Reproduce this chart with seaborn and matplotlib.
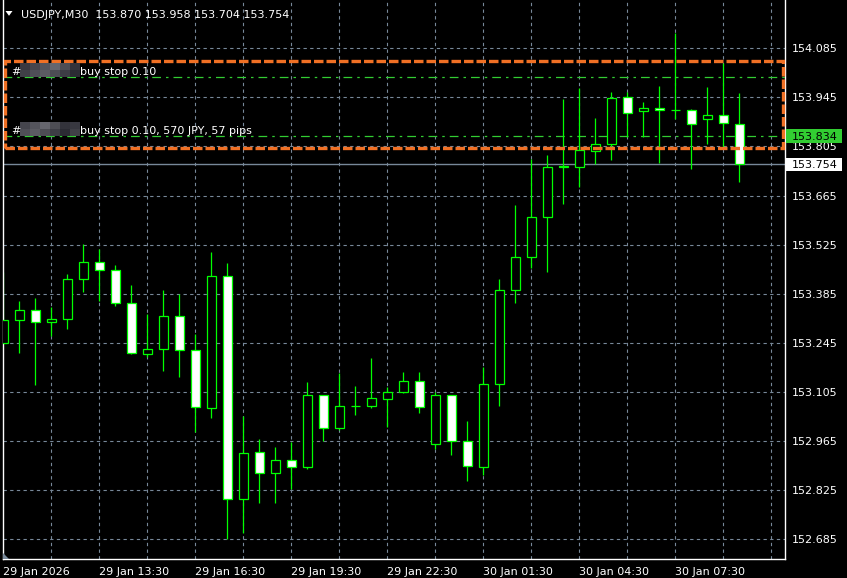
import matplotlib
matplotlib.use("Agg")
import matplotlib.pyplot as plt
import matplotlib.transforms as mtransforms
from matplotlib.patches import Rectangle, Polygon
import numpy as np
import pandas as pd
import seaborn as sns

# ---------------- data ----------------
symbol = "USDJPY,M30"
opens = [153.245, 153.311, 153.338, 153.303, 153.313, 153.426, 153.474, 153.452, 153.358, 153.212,
         153.226, 153.320, 153.223, 153.058, 153.435, 152.798, 152.932, 152.872, 152.910, 152.890,
         153.095, 153.001, 153.064, 153.064, 153.084, 153.104, 153.135, 152.955, 153.095, 152.964,
         152.890, 153.126, 153.395, 153.489, 153.603, 153.746, 153.747, 153.793, 153.813, 153.945,
         153.905, 153.914, 153.908, 153.908, 153.882, 153.894, 153.870]
highs = [153.446, 153.364, 153.372, 153.346, 153.441, 153.527, 153.512, 153.467, 153.410, 153.327,
         153.395, 153.384, 153.269, 153.503, 153.472, 153.036, 152.970, 152.948, 152.961, 153.132,
         153.095, 153.158, 153.122, 153.201, 153.120, 153.161, 153.161, 153.104, 153.095, 153.022,
         153.175, 153.426, 153.638, 153.768, 153.781, 153.940, 153.971, 153.886, 153.960, 153.960,
         153.932, 153.977, 154.128, 153.911, 153.975, 154.042, 153.958]
lows = [153.241, 153.217, 153.125, 153.265, 153.285, 153.391, 153.365, 153.351, 153.213, 153.203,
        153.165, 153.148, 152.991, 153.031, 152.684, 152.701, 152.789, 152.789, 152.827, 152.886,
        152.965, 152.995, 153.040, 153.060, 153.005, 153.101, 153.044, 152.941, 152.926, 152.851,
        152.869, 153.065, 153.359, 153.458, 153.448, 153.640, 153.690, 153.755, 153.767, 153.833,
        153.831, 153.759, 153.882, 153.742, 153.813, 153.803, 153.704]
closes = [153.310, 153.338, 153.303, 153.312, 153.426, 153.474, 153.452, 153.358, 153.215, 153.226,
          153.320, 153.223, 153.061, 153.435, 152.798, 152.930, 152.872, 152.910, 152.890, 153.095,
          153.001, 153.064, 153.064, 153.086, 153.104, 153.135, 153.061, 153.095, 152.964, 152.892,
          153.126, 153.395, 153.489, 153.603, 153.746, 153.748, 153.795, 153.811, 153.942, 153.900,
          153.914, 153.908, 153.908, 153.868, 153.894, 153.871, 153.754]

price_ticks = [154.085, 153.945, 153.805, 153.665, 153.525, 153.385, 153.245,
               153.105, 152.965, 152.825, 152.685]
time_label_bars = [0, 6, 12, 18, 24, 30, 36, 42]
time_labels = ["29 Jan 2026", "29 Jan 13:30", "29 Jan 16:30", "29 Jan 19:30",
               "29 Jan 22:30", "30 Jan 01:30", "30 Jan 04:30", "30 Jan 07:30"]
grid_step_bars = 3
order_prices = [154.004, 153.834]
order_texts = ["buy stop 0.10", "buy stop 0.10, 570 JPY, 57 pips"]
bid_price = 153.754
ask_label_price = 153.834
box_x = [0.106, 48.73]          # highlight box, bar index range
box_y = [153.801, 154.049]      # highlight box, price range

df = pd.DataFrame({"bar": np.arange(len(opens)), "open": opens, "high": highs,
                   "low": lows, "close": closes})

# ---------------- style ----------------
sns.set_theme(style="dark", rc={"axes.facecolor": "black", "figure.facecolor": "black",
                                "axes.edgecolor": "white", "axes.grid": False})
plt.rcParams["font.family"] = ["DejaVu Sans"]

W, H = 847, 578
GRID = "#778899"
GREEN = "#00FF00"
ORANGE = "#F07024"
LIME = "#32CD32"
FS = 8

fig = plt.figure(figsize=(W / 100, H / 100), dpi=100, facecolor="black")
ax = fig.add_axes([2.5 / W, (H - 559.3) / H, 782 / W, 559.3 / H])
ax.set_facecolor("black")
ax.set_xlim(-0.05, 48.825)
ax.set_ylim(152.6271, 154.2228)

for s in ["left", "bottom", "right"]:
    ax.spines[s].set_color("white")
    ax.spines[s].set_linewidth(1.0)
ax.spines["top"].set_visible(False)

# grid
for k in range(grid_step_bars, 49, grid_step_bars):
    ax.axvline(k, color=GRID, lw=0.8, ls=(0, (3, 3)), zorder=1)
for p in price_ticks:
    ax.axhline(p, color=GRID, lw=0.8, ls=(0, (3, 3)), zorder=1)

# bid line
ax.axhline(bid_price, color=GRID, lw=1.0, zorder=1.5)

# order lines
for p in order_prices:
    ax.axhline(p, color=LIME, lw=0.9, ls=(0, (7, 4, 2, 4)), zorder=1.6)

# candles
ax.vlines(df["bar"], df["low"], df["high"], color=GREEN, lw=0.9, zorder=2)
bottoms = np.minimum(df["open"], df["close"])
heights = np.abs(df["close"] - df["open"])
faces = np.where(df["close"] < df["open"], "white", "black")
ax.bar(df["bar"], heights, bottom=bottoms, width=0.56, color=faces,
       edgecolor=GREEN, linewidth=0.9, zorder=3)

# highlight box
rect = Rectangle((box_x[0], box_y[0]), box_x[1] - box_x[0], box_y[1] - box_y[0],
                 fill=False, edgecolor=ORANGE, lw=2.4, ls=(0, (2.85, 0.9)),
                 zorder=4, clip_on=False)
ax.add_patch(rect)

# axis ticks
ax.yaxis.tick_right()
ax.set_yticks(price_ticks)
ax.set_yticklabels([f"{p:.3f}" for p in price_ticks])
ax.tick_params(axis="y", length=0, pad=5, labelcolor="white", labelsize=FS)
ax.set_xticks(time_label_bars)
ax.set_xticklabels([])
ax.tick_params(axis="x", length=3, width=1, color="white", direction="out")

trans_xb = mtransforms.blended_transform_factory(ax.transData, fig.transFigure)
for b, lab in zip(time_label_bars, time_labels):
    ax.text(b - 0.05, 1 - 575.3 / H, lab, transform=trans_xb, ha="left",
            va="baseline", color="white", fontsize=FS, clip_on=False)

# right-side price boxes
trans_ay = mtransforms.blended_transform_factory(ax.transAxes, ax.transData)
half = 6.8 * (154.2228 - 152.6271) / 559.3
for price, fc in [(ask_label_price, LIME), (bid_price, "white")]:
    ax.add_patch(Rectangle((1 + 1.2 / 782, price - half), 56 / 782, 2 * half,
                           transform=trans_ay, facecolor=fc, edgecolor="none",
                           zorder=5, clip_on=False))
    ax.text(1 + 7.2 / 782, price, f"{price:.3f}", transform=trans_ay,
            ha="left", va="center_baseline", color="black", fontsize=FS,
            zorder=6, clip_on=False)


def px(x, y):
    return (x / W, 1 - y / H)


# order labels with pixelated masks
order_baselines = [75.2, 134.5]
grays = [[0.22, 0.27, 0.33, 0.40, 0.30, 0.20],
         [0.25, 0.31, 0.36, 0.30, 0.24, 0.17]]
for txt, yb in zip(order_texts, order_baselines):
    fig.text(*px(11.5, yb), "#", color="white", fontsize=FS, va="baseline", ha="left")
    for r in range(2):
        for c in range(6):
            g = grays[r][(c + (1 if yb > 100 else 0)) % 6]
            x0, y0 = px(20 + c * 10, yb - 12 + r * 7)
            fig.add_artist(Rectangle((x0, y0 - 7 / H), 10 / W, 7 / H,
                                     transform=fig.transFigure,
                                     facecolor=(g, g, g + 0.03), edgecolor="none"))
    fig.text(*px(80, yb), txt, color="white", fontsize=FS, va="baseline", ha="left")

# header
fig.add_artist(Polygon([px(5.5, 11), px(12.5, 11), px(9, 15.8)], closed=True,
                       transform=fig.transFigure, facecolor="white", edgecolor="none"))
fig.text(*px(20.5, 18.3), f"{symbol}  {opens[-1]:.3f} {highs[-1]:.3f} {lows[-1]:.3f} {closes[-1]:.3f}",
         color="white", fontsize=FS, va="baseline", ha="left")

# small shift marker bottom-left
fig.add_artist(Polygon([px(3, 553), px(3, 559), px(9, 559)], closed=True,
                       transform=fig.transFigure, facecolor=GRID, edgecolor="none"))

fig.savefig("out.png", dpi=100, facecolor="black")
